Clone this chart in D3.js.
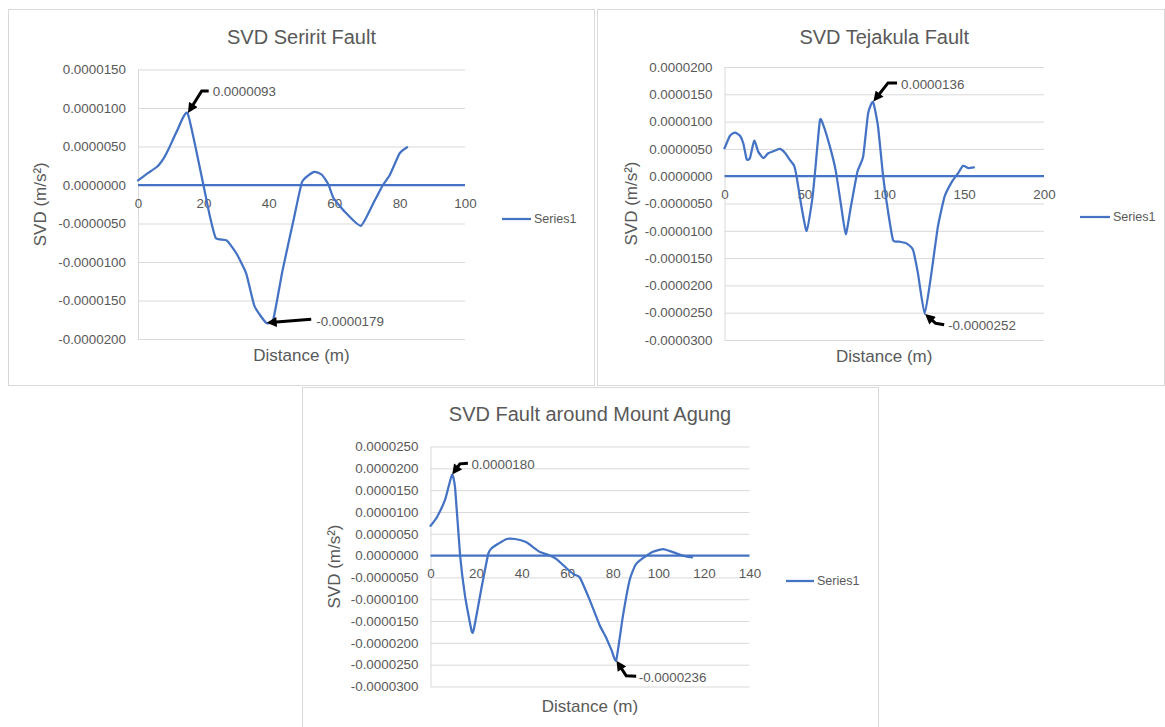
<!DOCTYPE html>
<html><head><meta charset="utf-8">
<script src="https://cdn.jsdelivr.net/npm/d3@7"></script>
<style>body{margin:0;background:#fff;} svg{display:block;font-family:"Liberation Sans",Arial,sans-serif;}</style>
</head><body><svg id="c" width="1165" height="727"></svg>
<script>
// ---------- DATA ----------
const seriesName = "Series1";

const seriritDistance = [0, 2.9, 5.9, 7.9, 9.4, 11.9, 15.2, 20.0, 22.0, 23.8, 27.1, 30.1, 33.1, 35.6, 39.2, 41.4, 44.2, 47.7, 50.2, 53.8, 56.3, 58.3, 59.8, 63.3, 68.2, 72.4, 74.9, 77.0, 80.0, 82.3];
const seriritSVD = [0.6e-6, 1.5e-6, 2.4e-6, 3.5e-6, 4.7e-6, 7.0e-6, 9.3e-6, 0, -4.1e-6, -6.9e-6, -7.2e-6, -8.9e-6, -11.5e-6, -15.7e-6, -17.9e-6, -17.4e-6, -11.1e-6, -4.3e-6, 0.4e-6, 1.7e-6, 1.3e-6, 0, -1.7e-6, -3.5e-6, -5.3e-6, -2.0e-6, 0, 1.3e-6, 4.1e-6, 4.9e-6];
const seriritXTicks = [0, 20, 40, 60, 80, 100];
const seriritYTicks = [15e-6, 10e-6, 5e-6, 0, -5e-6, -10e-6, -15e-6, -20e-6];
const seriritLabels = ["0.0000093", "-0.0000179"];

const tejakulaDistance = [0, 3.4, 6.6, 9.7, 11.8, 13.9, 15.9, 18.6, 21.1, 24.3, 27.4, 31.6, 34.7, 37.8, 40.9, 43.6, 45.1, 48.2, 51.4, 54.9, 56.6, 59.7, 61.8, 65.9, 69.5, 72.8, 75.9, 79.1, 83.2, 86.8, 89.9, 93.0, 96.1, 99.3, 102.4, 105.5, 109.7, 113.9, 118.0, 121.1, 125.3, 129.5, 133.6, 137.8, 142.4, 146.1, 149.3, 152.4, 156.1];
const tejakulaSVD = [5.1e-6, 7.4e-6, 8.0e-6, 7.4e-6, 6.0e-6, 3.1e-6, 3.3e-6, 6.5e-6, 4.5e-6, 3.3e-6, 4.2e-6, 4.7e-6, 5.0e-6, 4.3e-6, 3.0e-6, 1.9e-6, 0, -5.6e-6, -10.0e-6, -4.3e-6, 0.5e-6, 10.2e-6, 9.4e-6, 5.5e-6, 1.2e-6, -5.0e-6, -10.6e-6, -5.6e-6, 0.8e-6, 3.6e-6, 11.5e-6, 13.6e-6, 9.1e-6, 0, -6.5e-6, -11.7e-6, -12.0e-6, -12.3e-6, -13.5e-6, -17.8e-6, -25.2e-6, -17.8e-6, -9.2e-6, -3.7e-6, -1.0e-6, 0.5e-6, 1.9e-6, 1.5e-6, 1.6e-6];
const tejakulaXTicks = [0, 50, 100, 150, 200];
const tejakulaYTicks = [20e-6, 15e-6, 10e-6, 5e-6, 0, -5e-6, -10e-6, -15e-6, -20e-6, -25e-6, -30e-6];
const tejakulaLabels = ["0.0000136", "-0.0000252"];

const agungDistance = [0, 2.8, 6.4, 9.4, 10.8, 13.0, 15.2, 18.1, 19.1, 22.5, 25.4, 26.9, 29.7, 33.4, 37.1, 41.9, 45.1, 48.0, 51.6, 55.3, 59.7, 62.9, 65.5, 69.9, 74.2, 76.9, 79.4, 81.5, 84.4, 87.4, 90.0, 93.2, 97.6, 102.2, 106.3, 110.7, 114.8];
const agungSVD = [6.8e-6, 8.8e-6, 12.8e-6, 18.5e-6, 15.5e-6, 0, -9.4e-6, -17.4e-6, -16.7e-6, -7.1e-6, 0.5e-6, 1.7e-6, 2.7e-6, 3.8e-6, 3.8e-6, 3.1e-6, 1.9e-6, 0.8e-6, 0.2e-6, -0.8e-6, -2.9e-6, -4.3e-6, -5.0e-6, -10.2e-6, -15.9e-6, -18.6e-6, -21.6e-6, -24.0e-6, -14.0e-6, -5.6e-6, -2.1e-6, -0.6e-6, 0.9e-6, 1.5e-6, 0.8e-6, 0, -0.4e-6];
const agungXTicks = [0, 20, 40, 60, 80, 100, 120, 140];
const agungYTicks = [25e-6, 20e-6, 15e-6, 10e-6, 5e-6, 0, -5e-6, -10e-6, -15e-6, -20e-6, -25e-6, -30e-6];
const agungLabels = ["0.0000180", "-0.0000236"];

// ---------- LAYOUT ----------
const charts = [
  { title: "SVD Seririt Fault", xs: seriritDistance, ys: seriritSVD, xTicks: seriritXTicks, yTicks: seriritYTicks, labels: seriritLabels,
    panel: [8, 9, 594, 385], plot: { l: 138, r: 465, t: 69.5, b: 339 }, titleY: 37, xTitleY: 355, yTitleX: 40,
    legend: { x1: 502, x2: 531, y: 219 },
    ann: [ { elbow: [14, -22.5], end: [21, -22.5], text: [25, -22.5] },
           { elbow: null, end: [45, -3.5], text: [50, -1.5] } ] },
  { title: "SVD Tejakula Fault", xs: tejakulaDistance, ys: tejakulaSVD, xTicks: tejakulaXTicks, yTicks: tejakulaYTicks, labels: tejakulaLabels,
    panel: [597, 9, 1164, 385], plot: { l: 724.5, r: 1044, t: 67, b: 340 }, titleY: 37, xTitleY: 356, yTitleX: 631,
    legend: { x1: 1080, x2: 1110, y: 217 },
    ann: [ { elbow: [15, -19], end: [24, -19], text: [28, -18] },
           { elbow: [11, 9.5], end: [19.5, 11], text: [23.5, 12] } ] },
  { title: "SVD Fault around Mount Agung", xs: agungDistance, ys: agungSVD, xTicks: agungXTicks, yTicks: agungYTicks, labels: agungLabels,
    panel: [302, 387, 878, 727], plot: { l: 430.5, r: 749.5, t: 446.5, b: 686.5 }, titleY: 414, xTitleY: 706, yTitleX: 334,
    legend: { x1: 786, x2: 814, y: 581 },
    ann: [ { elbow: [8, -11], end: [16, -11.5], text: [19.5, -11] },
           { elbow: [10, 15.5], end: [20, 16], text: [22.5, 16.5] } ] }
];

const BLUE = "#4472C4", GRID = "#d9d9d9", TXT = "#595959";
const svg = d3.select("#c");
svg.append("rect").attr("width", 1165).attr("height", 727).attr("fill", "#fff");

const defs = svg.append("defs");
defs.append("marker").attr("id", "ah").attr("markerUnits", "userSpaceOnUse")
  .attr("viewBox", "0 0 10 10").attr("refX", 10).attr("refY", 5)
  .attr("markerWidth", 11).attr("markerHeight", 10).attr("orient", "auto")
  .append("path").attr("d", "M0,0 L10,5 L0,10 Z").attr("fill", "#000");

const fmt = v => (Math.abs(v) < 1e-12 ? 0 : v).toFixed(7);

charts.forEach(c => {
  const g = svg.append("g");
  const [px0, py0, px1, py1] = c.panel;
  g.append("rect").attr("x", px0 + 0.5).attr("y", py0 + 0.5).attr("width", px1 - px0).attr("height", py1 - py0)
    .attr("fill", "#fff").attr("stroke", GRID).attr("stroke-width", 1);

  const x = d3.scaleLinear().domain([c.xTicks[0], c.xTicks[c.xTicks.length - 1]]).range([c.plot.l, c.plot.r]);
  const y = d3.scaleLinear().domain(d3.extent(c.yTicks)).range([c.plot.b, c.plot.t]);

  // gridlines + y labels
  const yAxis = d3.axisLeft(y).tickValues(c.yTicks).tickFormat(fmt).tickSize(-(c.plot.r - c.plot.l)).tickPadding(12);
  const ya = g.append("g").attr("transform", `translate(${c.plot.l},0)`).call(yAxis);
  ya.select(".domain").attr("stroke", GRID).attr("d", `M0.5,${c.plot.t}V${c.plot.b}`);
  ya.selectAll(".tick line").attr("stroke", GRID).attr("stroke-width", 1)
    .attr("stroke-opacity", d => d === 0 ? 0 : 1);
  ya.selectAll(".tick text").attr("fill", TXT).style("font-size", "13.4px").style("font-family", '"Liberation Sans",Arial,sans-serif');

  // horizontal (category) axis at zero, blue
  const xa = g.append("g").attr("transform", `translate(0,${y(0)})`)
    .call(d3.axisBottom(x).tickValues(c.xTicks).tickSize(0).tickPadding(13));
  xa.select(".domain").remove();
  xa.selectAll(".tick text").attr("fill", TXT).style("font-size", "13.4px").style("font-family", '"Liberation Sans",Arial,sans-serif');
  g.append("line").attr("x1", c.plot.l).attr("x2", c.plot.r).attr("y1", y(0)).attr("y2", y(0))
    .attr("stroke", BLUE).attr("stroke-width", 2.25);

  // series line
  const pts = c.xs.map((d, i) => [d, c.ys[i]]);
  const line = d3.line().x(d => x(d[0])).y(d => y(d[1])).curve(d3.curveCardinal.tension(0.5));
  g.append("path").attr("d", line(pts)).attr("fill", "none").attr("stroke", BLUE)
    .attr("stroke-width", 2.25).attr("stroke-linejoin", "round").attr("stroke-linecap", "round");

  // titles
  g.append("text").attr("x", (c.plot.l + c.plot.r) / 2).attr("y", c.titleY).attr("dy", "0.35em")
    .attr("text-anchor", "middle").attr("fill", TXT).style("font-size", "20px").text(c.title);
  g.append("text").attr("x", (c.plot.l + c.plot.r) / 2).attr("y", c.xTitleY).attr("dy", "0.35em")
    .attr("text-anchor", "middle").attr("fill", TXT).style("font-size", "17px").text("Distance (m)");
  g.append("text").attr("transform", `translate(${c.yTitleX},${(c.plot.t + c.plot.b) / 2}) rotate(-90)`)
    .attr("dy", "0.35em").attr("text-anchor", "middle").attr("fill", TXT).style("font-size", "17px")
    .text("SVD (m/s²)");

  // legend
  g.append("line").attr("x1", c.legend.x1).attr("x2", c.legend.x2).attr("y1", c.legend.y).attr("y2", c.legend.y)
    .attr("stroke", BLUE).attr("stroke-width", 2.25);
  g.append("text").attr("x", c.legend.x2 + 3).attr("y", c.legend.y).attr("dy", "0.35em")
    .attr("fill", TXT).style("font-size", "12.5px").text(seriesName);

  // annotations for max and min
  const idx = [d3.maxIndex(c.ys), d3.minIndex(c.ys)];
  idx.forEach((k, j) => {
    const a = c.ann[j];
    const tx = x(c.xs[k]), ty = y(c.ys[k]);
    const p = [[tx + a.end[0], ty + a.end[1]]];
    if (a.elbow) p.push([tx + a.elbow[0], ty + a.elbow[1]]);
    p.push([tx, ty]);
    const [ax, ay] = p[p.length - 2];
    const dx = tx - ax, dy = ty - ay, L = Math.hypot(dx, dy);
    const endPt = [tx - dx / L * 0.5, ty - dy / L * 0.5];
    const shaft = p.slice(0, -1).concat([[tx - dx / L * 7, ty - dy / L * 7]]);
    g.append("path").attr("d", d3.line()(shaft)).attr("fill", "none").attr("stroke", "#000")
      .attr("stroke-width", 3).attr("stroke-linejoin", "miter");
    g.append("path").attr("d", d3.line()([[tx - dx / L * 8, ty - dy / L * 8], endPt]))
      .attr("stroke", "none").attr("fill", "none").attr("marker-end", "url(#ah)");
    g.append("text").attr("x", tx + a.text[0]).attr("y", ty + a.text[1]).attr("dy", "0.35em")
      .attr("fill", TXT).style("font-size", "13.4px").text(c.labels[j]);
  });
});
</script></body></html>
